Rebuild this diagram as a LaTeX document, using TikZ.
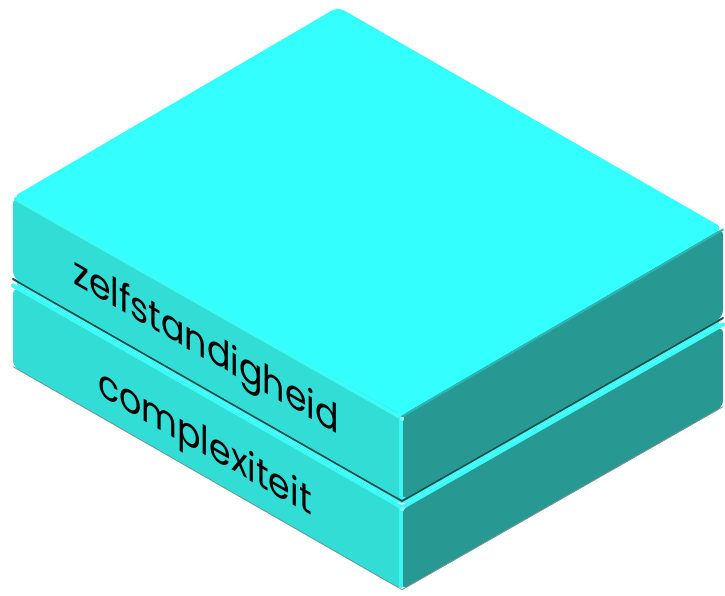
\documentclass[tikz,border=0pt]{standalone}
\usepackage{fontspec}
\newfontfamily\labelfont{Poppins}
\definecolor{topc}{RGB}{51,255,255}
\definecolor{leftc}{RGB}{50,221,213}
\definecolor{rightc}{RGB}{40,152,147}
\definecolor{bevelc}{RGB}{60,252,248}
\definecolor{shadowc}{RGB}{25,80,78}
\tikzset{
  face/.style={line join=round, rounded corners=7pt},
  bevel/.style={line width=#1, line cap=round, line join=round},
  lbl/.style={font=\labelfont\fontsize{40}{40}\selectfont, text=black, anchor=base, inner sep=0pt, transform shape}
}
\begin{document}
\begin{tikzpicture}[x=1pt,y=-1pt]
\useasboundingbox (0,0) rectangle (725,595);
% upper slab
\coordinate (T) at (338,7);
\coordinate (L) at (13,197);
\coordinate (F) at (402,415);
\coordinate (R) at (723,228);
\coordinate (L1) at (13,278);
\coordinate (F1) at (402,500);
\coordinate (R1) at (723,317);
% lower slab
\coordinate (T2) at (338,93);
\coordinate (L2) at (13,283);
\coordinate (F2) at (402,505);
\coordinate (R2) at (723,322);
\coordinate (L3) at (13,367);
\coordinate (F3) at (402,590);
\coordinate (R3) at (723,407);
% lower slab faces
\fill[bevelc, face] (T2) -- (L2) -- (F2) -- (R2) -- cycle;
\fill[leftc, face] ([yshift=-4pt]L2) -- ([yshift=-4pt]F2) -- (F3) -- (L3) -- cycle;
\fill[rightc, face] ([yshift=-4pt]F2) -- ([yshift=-4pt]R2) -- (R3) -- (F3) -- cycle;
\draw[shadowc!60, line width=0.8pt, line cap=round] ([yshift=0.4pt]L3) -- ([yshift=0.4pt]F3) -- ([yshift=0.4pt]R3);
% lower top bevel
\draw[bevelc, bevel=4pt] ([yshift=-2.5pt]L2) -- ([yshift=-2.5pt]F2) -- ([yshift=-2.5pt]R2);
\draw[leftc!25!bevelc, bevel=4pt] ([yshift=-3pt,xshift=-1.5pt]F2) -- ([yshift=4pt,xshift=-1.5pt]F3);
% gap shadow
\draw[shadowc, line width=2pt, line cap=round] ([yshift=-1pt]L1) -- ([yshift=-1pt]F1) -- ([yshift=-1pt]R1);
% upper slab faces
\fill[leftc, face] (L) -- (F) -- (F1) -- (L1) -- cycle;
\fill[rightc, face] (F) -- (R) -- (R1) -- (F1) -- cycle;
\fill[topc, face] (T) -- (L) -- (F) -- (R) -- cycle;
% edge highlights
\draw[bevelc, bevel=4pt] ([yshift=-2pt,xshift=3pt]L) -- ([yshift=-3pt]F);
\draw[leftc!25!bevelc, bevel=4pt] ([yshift=-3pt,xshift=-1.5pt]F) -- ([yshift=4pt,xshift=-1.5pt]F1);
\draw[rightc!70!topc, line width=2pt, line cap=round] ([yshift=-1.5pt]F) -- ([yshift=-1.5pt]R);
\fill[white!40!topc] ([yshift=-4pt]F) circle (2.2pt);
\fill[white!40!topc] ([yshift=-4pt]F2) circle (2pt);
% labels
\begin{scope}[shift={(206,359)}, cm={0.870,-0.494,0,1,(0,0)}]
\node[lbl] (upper) at (0,0) {zelfstandigheid};
\end{scope}
\begin{scope}[shift={(205,455)}, cm={0.870,-0.494,0,1,(0,0)}]
\node[lbl] (lower) at (0,0) {complexiteit};
\end{scope}
\end{tikzpicture}
\end{document}
